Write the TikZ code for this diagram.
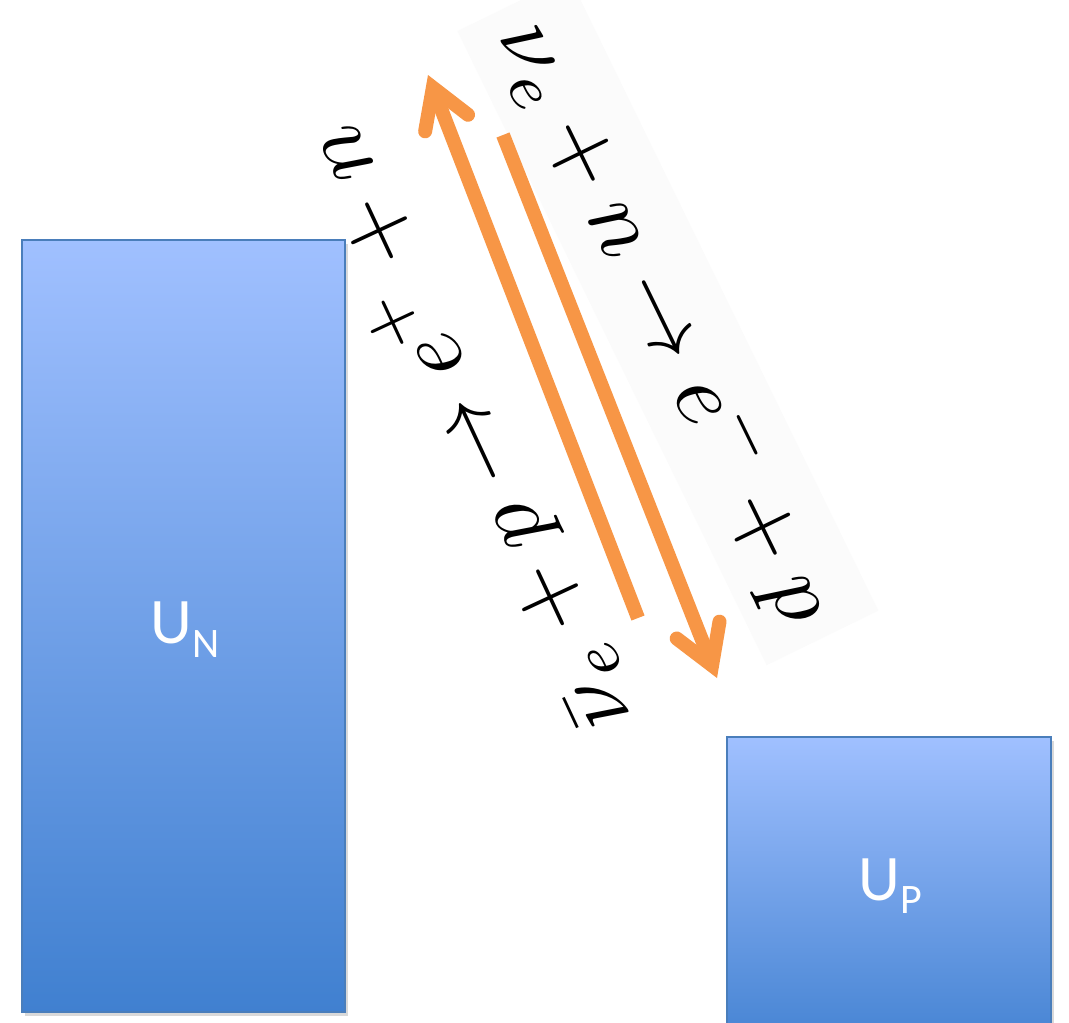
\documentclass[tikz,border=0pt]{standalone}
\usepackage{fontspec}
\newfontfamily\calib{Carlito}
\usetikzlibrary{arrows.meta,shadows}
\definecolor{boxtop}{RGB}{160,192,255}
\definecolor{boxbot}{RGB}{64,128,208}
\definecolor{boxline}{RGB}{74,126,187}
\definecolor{arroworange}{RGB}{247,150,70}
\definecolor{bandgray}{RGB}{251,251,251}
\begin{document}
\begin{tikzpicture}[x=1pt,y=-1pt,
  ubox/.style={draw=boxline, line width=2pt, top color=boxtop, bottom color=boxbot,
    inner sep=0pt, outer sep=0pt,
    drop shadow={shadow xshift=3pt, shadow yshift=-4pt, opacity=0.15, fill=black}},
  orarrow/.style={draw=arroworange, line width=14pt, line cap=butt,
    -{Straight Barb[length=38pt,width=46pt,line cap=round,line join=miter]}},
  eqn/.style={scale=9.2, inner sep=0pt, anchor=base},
  lbl/.style={text=white, font=\calib\fontsize{65pt}{70pt}\selectfont, inner sep=0pt, anchor=base}
]
\useasboundingbox (0,0) rectangle (1069,1023);
\fill[white] (0,0) rectangle (1069,1023);

% energy boxes
\node[ubox, minimum width=323pt, minimum height=772pt] (boxN) at (183.5,626) {};
\node[ubox, minimum width=324pt, minimum height=324pt] (boxP) at (889,899) {};

% labels
\node[lbl] (labN) at (185,643) {U\raisebox{-14pt}{\fontsize{42pt}{42pt}\selectfont N}};
\node[lbl] (labP) at (890,900) {U\raisebox{-13pt}{\fontsize{42pt}{42pt}\selectfont P}};

% faint band behind right equation
\node[eqn, fill=bandgray, inner xsep=2.5pt, inner ysep=1.8pt, rotate=-64, text opacity=0] (bandR) at (643,333) {$\nu_e + n \rightarrow e^- + p$};

% arrows
\coordinate (la0) at (638,618);
\coordinate (la1) at (428,75);
\coordinate (ra0) at (503,135);
\coordinate (ra1) at (717,678);
\draw[orarrow] (la0) -- (la1);
\draw[orarrow] (ra0) -- (ra1);

% equations
\node[eqn, rotate=-64] (eqR) at (643,333) {$\nu_e + n \rightarrow e^- + p$};
\node[eqn, rotate=115] (eqL) at (492,418) {$\bar\nu_e + p \rightarrow e^+ + n$};
\end{tikzpicture}
\end{document}
